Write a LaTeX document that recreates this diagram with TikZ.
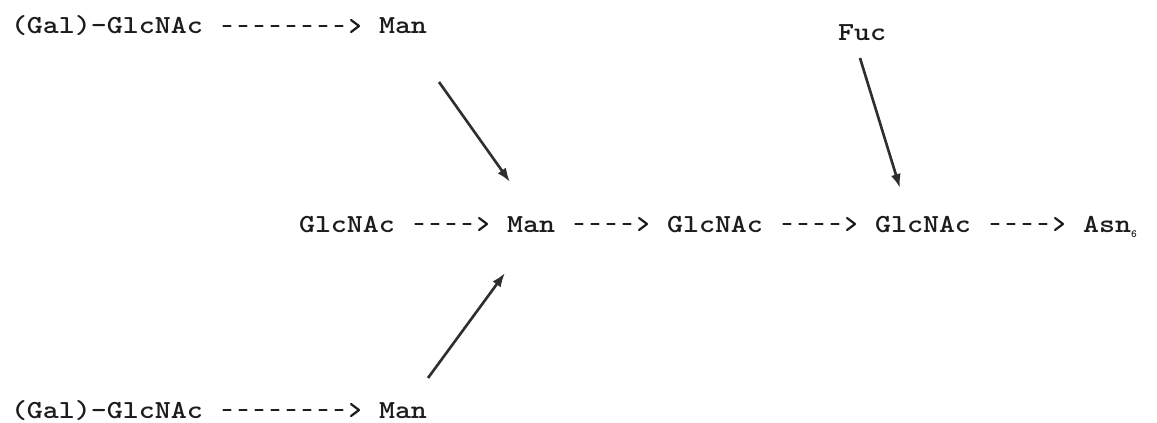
\documentclass[tikz,border=0pt]{standalone}
\usetikzlibrary{arrows.meta,decorations.markings}
\definecolor{ink}{HTML}{1C1C1C}
\definecolor{rule}{HTML}{2E2E2E}
% typewriter pitch is 16pt: stretch Latin Modern Mono to that advance
\newcommand\widett[1]{\scalebox{1.172}[1]{#1}}
\tikzset{
  sugar/.style={anchor=base west, inner sep=0pt, outer sep=0pt, text=ink,
    font=\fontsize{26}{26}\selectfont\ttfamily\bfseries},
  % typed "---->" linkage: hyphens on the 16pt pitch, then a ">" chevron
  typed/.style={draw=ink, line width=2.4pt, line cap=round,
    dash pattern=on 7pt off 9pt, shorten >=10pt,
    postaction={decorate},
    decoration={markings, mark=at position 1 with {
      \draw[solid, draw=ink, line width=2.2pt, line cap=round, line join=round,
            shorten >=0pt, shorten <=0pt]
        (-8pt,-6pt) -- (0pt,0pt) -- (-8pt,6pt);}}},
  bond/.style={draw=rule, line width=2.6pt, -{Latex[length=14pt,width=10pt]}},
}
\begin{document}
\begin{tikzpicture}[x=1pt, y=-1pt]
  \useasboundingbox[fill=white] (0,0) rectangle (1157,423);

  % upper antenna
  \node[sugar] (galA) at (11,34) {\widett{(Gal)-GlcNAc}};
  \node[sugar] (manA) at (379,34) {\widett{Man}};
  % lower antenna
  \node[sugar] (galB) at (11,418) {\widett{(Gal)-GlcNAc}};
  \node[sugar] (manB) at (379,418) {\widett{Man}};
  % core chain
  \node[sugar] (glc0) at (299,232) {\widett{GlcNAc}};
  \node[sugar] (core) at (507,232) {\widett{Man}};
  \node[sugar] (glc1) at (667,232) {\widett{GlcNAc}};
  \node[sugar] (glc2) at (875,232) {\widett{GlcNAc}};
  \node[sugar] (asn)  at (1083,232) {\widett{Asn}\raisebox{-5pt}{\fontsize{11}{11}\selectfont 6}};
  % fucose
  \node[sugar] (fuc)  at (838,40) {\widett{Fuc}};

  % typed linkage arrows
  \draw[typed] ([shift={(20.5,-8)}]galA.base east) -- ([shift={(-20,-8)}]manA.base west);
  \draw[typed] ([shift={(20.5,-8)}]galB.base east) -- ([shift={(-20,-8)}]manB.base west);
  \draw[typed] ([shift={(20.5,-8)}]glc0.base east) -- ([shift={(-20,-8)}]core.base west);
  \draw[typed] ([shift={(20.5,-8)}]core.base east) -- ([shift={(-20,-8)}]glc1.base west);
  \draw[typed] ([shift={(20.5,-8)}]glc1.base east) -- ([shift={(-20,-8)}]glc2.base west);
  \draw[typed] ([shift={(20.5,-8)}]glc2.base east) -- ([shift={(-20,-8)}]asn.base west);

  % branch arrows onto the core
  \coordinate (tailA) at (439,82);
  \coordinate (headA) at (510,182);
  \coordinate (tailB) at (428,378);
  \coordinate (headB) at (505,273);
  \coordinate (tailF) at (860,58);
  \coordinate (headF) at (900,188);
  \draw[bond] (tailA) -- (headA);
  \draw[bond] (tailB) -- (headB);
  \draw[bond] (tailF) -- (headF);
\end{tikzpicture}
\end{document}
